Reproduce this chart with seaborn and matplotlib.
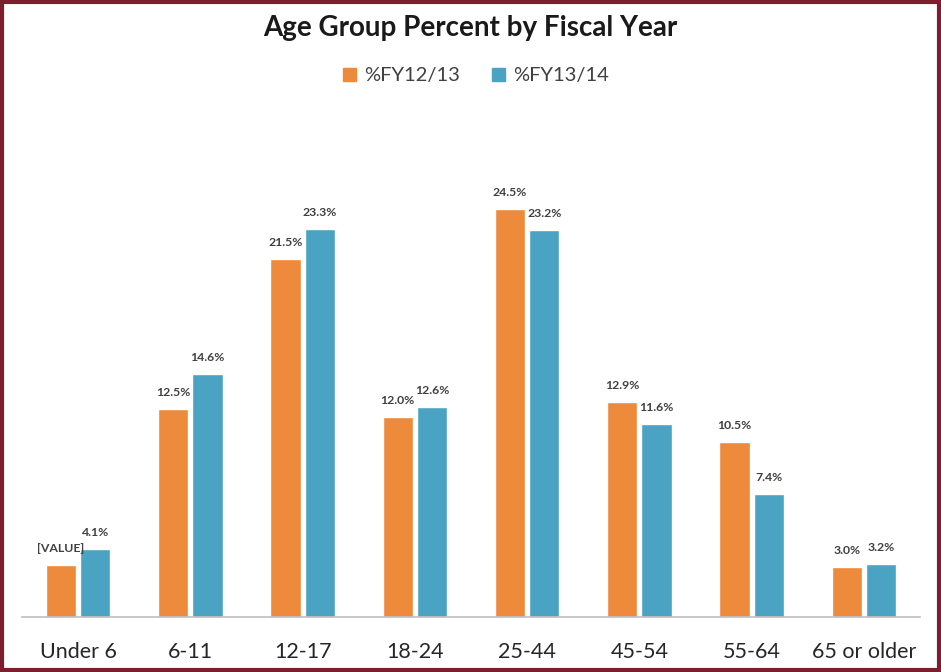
import matplotlib
matplotlib.use("Agg")
import matplotlib.pyplot as plt
import seaborn as sns
import pandas as pd
from matplotlib.patches import Rectangle

categories = ["Under 6", "6-11", "12-17", "18-24", "25-44", "45-54", "55-64", "65 or older"]
series_names = ["%FY12/13", "%FY13/14"]
fy1213 = [3.1, 12.5, 21.5, 12.0, 24.5, 12.9, 10.5, 3.0]
fy1314 = [4.1, 14.6, 23.3, 12.6, 23.2, 11.6, 7.4, 3.2]
labels_1213 = ["[VALUE]", "12.5%", "21.5%", "12.0%", "24.5%", "12.9%", "10.5%", "3.0%"]
labels_1314 = ["4.1%", "14.6%", "23.3%", "12.6%", "23.2%", "11.6%", "7.4%", "3.2%"]
colors = ["#EE8A3C", "#4AA3C2"]

df = pd.DataFrame({
    "Age": categories * 2,
    "Series": [series_names[0]] * len(categories) + [series_names[1]] * len(categories),
    "Percent": fy1213 + fy1314,
})

sns.set_theme(style="white")
plt.rcParams["font.family"] = ["Lato", "DejaVu Sans"]

fig = plt.figure(figsize=(9.41, 6.72), dpi=100)
ax = fig.add_axes([22 / 941, 1 - 617 / 672, (920 - 22) / 941, (617 - 167) / 672])

sns.barplot(data=df, x="Age", y="Percent", hue="Series", order=categories,
            hue_order=series_names, palette=colors, width=0.61, gap=0.12,
            saturation=1, ax=ax, legend=False)

ax.set_xlim(-0.5, len(categories) - 0.5)
ax.set_ylim(0, 27)
ax.set_xlabel("")
ax.set_ylabel("")
ax.set_yticks([])
for s in ["top", "left", "right"]:
    ax.spines[s].set_visible(False)
ax.spines["bottom"].set_color("#BFBFBF")
ax.spines["bottom"].set_linewidth(1.2)
ax.tick_params(axis="x", length=0, pad=18, labelsize=15.5, labelcolor="#262626")

for cont, labs in zip(ax.containers, [labels_1213, labels_1314]):
    ax.bar_label(cont, labels=labs, padding=8, fontsize=8.8, fontweight="bold",
                 color="#404040")

fig.text(0.5, 1 - 28 / 672, "Age Group Percent by Fiscal Year", ha="center", va="center",
         fontsize=20, fontweight="bold", color="#1a1a1a")

handles = [Rectangle((0, 0), 1, 1, color=c) for c in colors]
fig.legend(handles, series_names, loc="center", bbox_to_anchor=(476 / 941, 1 - 76 / 672),
           ncol=2, frameon=False, fontsize=14.5, handlelength=0.65, handleheight=0.65,
           handletextpad=0.4, columnspacing=1.6, labelcolor="#404040")

fig.patches.append(Rectangle((0.002, 0.003), 0.996, 0.994, transform=fig.transFigure,
                             fill=False, edgecolor="#7B1E2E", linewidth=3, zorder=10))

fig.savefig("out.png", dpi=100)
